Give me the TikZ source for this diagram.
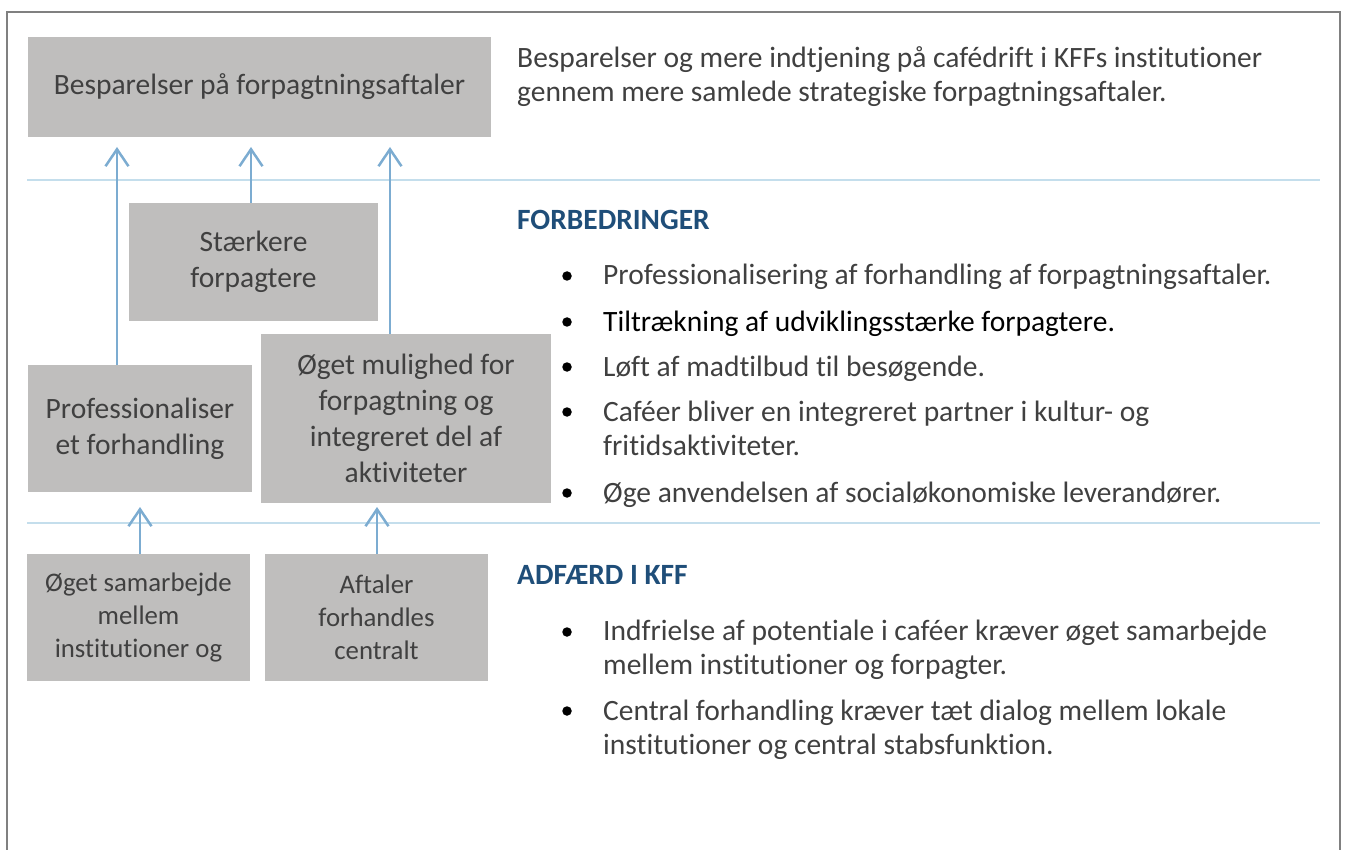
\documentclass[tikz,border=0pt]{standalone}
\usepackage{fontspec}
\setmainfont{Carlito}[Ligatures=NoCommon]
\usetikzlibrary{arrows.meta,positioning}
\definecolor{boxgray}{RGB}{191,190,189}
\definecolor{arrowblue}{RGB}{124,172,209}
\definecolor{lineblue}{RGB}{196,222,236}
\definecolor{headblue}{RGB}{31,78,121}
\definecolor{txtgray}{RGB}{64,64,64}
\definecolor{framegray}{RGB}{128,128,128}

\begin{document}
\begin{tikzpicture}[
            x=1pt, y=-1pt,
            box/.style={fill=boxgray, inner sep=0pt, align=center, text=txtgray, font=\fontsize{29.5}{36}\selectfont},
            smallbox/.style={box, font=\fontsize{26.8}{33}\selectfont},
            up/.style={draw=arrowblue, line width=2.5pt, -{Straight Barb[length=17pt,width=23pt]}},
            sep/.style={draw=lineblue, line width=2pt},
            head/.style={anchor=base west, inner sep=0pt, text=headblue, font=\bfseries\fontsize{29.4}{34}\selectfont},
            body/.style={anchor=base west, inner sep=0pt, text=txtgray, align=left, font=\fontsize{29.5}{34}\selectfont},
            dot/.style={circle, fill=black, inner sep=0pt, minimum size=9.5pt}
        ]
            \useasboundingbox (0,0) rectangle (1347,850);

% --- frame and separators ---
            \draw[framegray, line width=2pt] (7,860) -- (7,12) -- (1340,12) -- (1340,860);
            \draw[sep] (27,180) -- (1320,180);
            \draw[sep] (27,523) -- (1320,523);

% --- boxes ---
            \node[box, minimum width=463pt, minimum height=100pt] (goal) at (259.5,87) {Besparelser på forpagtningsaftaler};
            \node[box, minimum width=249pt, minimum height=118pt] (strong) at (253.5,262) {Stærkere\\forpagtere};
            \node[box, minimum width=224pt, minimum height=127pt] (prof) at (140,428.5) {Professionaliser\\et forhandling};
            \node[box, minimum width=290pt, minimum height=169pt] (chance) at (406,418.5) {Øget mulighed for\\forpagtning og\\integreret del af\\aktiviteter};
            \node[smallbox, minimum width=223pt, minimum height=127pt] (coop) at (138.5,617.5) {Øget samarbejde\\mellem\\institutioner og};
            \node[smallbox, minimum width=223pt, minimum height=127pt] (central) at (376.5,617.5) {Aftaler\\forhandles\\centralt};

% --- arrow tips ---
            \coordinate (t1) at (117,147);
            \coordinate (t2) at (251,147);
            \coordinate (t3) at (390,147);
            \coordinate (t4) at (140,507);
            \coordinate (t5) at (377,507);

% --- arrows ---
            \draw[up] (t1 |- prof.north) -- (t1);
            \draw[up] (t2 |- strong.north) -- (t2);
            \draw[up] (t3 |- chance.north) -- (t3);
            \draw[up] (t4 |- coop.north) -- (t4);
            \draw[up] (t5 |- central.north) -- (t5);

% --- right column (base = last line) ---
            \node[body] (aim) at (517,102) {Besparelser og mere indtjening på cafédrift i KFFs institutioner\\gennem mere samlede strategiske forpagtningsaftaler.};

            \node[head] (better) at (517,230) {FORBEDRINGER};
            \node[dot] (d1) at (567,276) {};
            \node[dot] (d2) at (567,322) {};
            \node[dot] (d3) at (567,367) {};
            \node[dot] (d4) at (567,412) {};
            \node[dot] (d5) at (567,493) {};
            \node[body] (b1) at (603,285) {Professionalisering af forhandling af forpagtningsaftaler.};
            \node[body, text=black] (b2) at (603,331) {Tiltrækning af udviklingsstærke forpagtere.};
            \node[body] (b3) at (603,376) {Løft af madtilbud til besøgende.};
            \node[body] (b4) at (603,455) {Caféer bliver en integreret partner i kultur- og\\fritidsaktiviteter.};
            \node[body] (b5) at (603,502) {Øge anvendelsen af socialøkonomiske leverandører.};

            \node[head] (conduct) at (517,584) {ADFÆRD I KFF};
            \node[dot] (d6) at (567,632) {};
            \node[dot] (d7) at (567,711) {};
            \node[body] (c1) at (603,674) {Indfrielse af potentiale i caféer kræver øget samarbejde\\mellem institutioner og forpagter.};
            \node[body] (c2) at (603,754) {Central forhandling kræver tæt dialog mellem lokale\\institutioner og central stabsfunktion.};

        \end{tikzpicture}
\end{document}
